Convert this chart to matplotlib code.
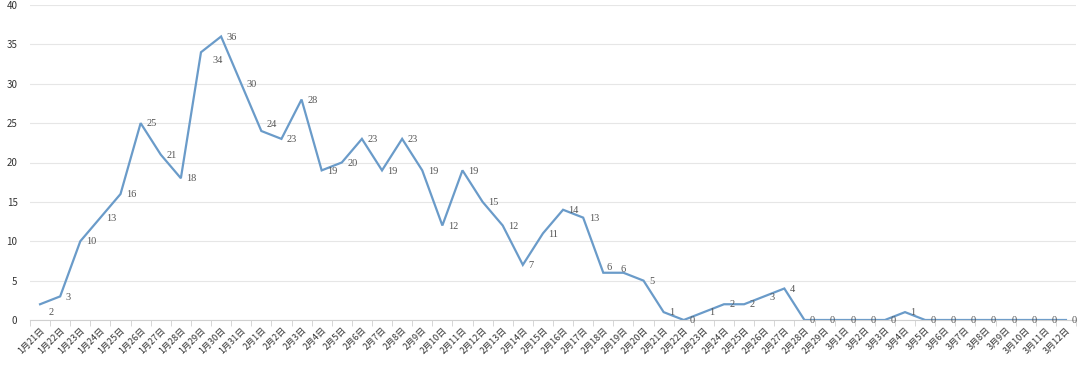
import matplotlib
matplotlib.use("Agg")
import matplotlib.pyplot as plt
from matplotlib.ticker import FixedLocator
import numpy as np

plt.rcParams['font.family'] = ['Noto Sans CJK SC', 'DejaVu Sans']

dates = (["1月%d日" % d for d in range(21, 32)] +
         ["2月%d日" % d for d in range(1, 30)] +
         ["3月%d日" % d for d in range(1, 13)])
values = [2, 3, 10, 13, 16, 25, 21, 18, 34, 36, 30,
          24, 23, 28, 19, 20, 23, 19, 23, 19, 12, 19, 15, 12, 7, 11, 14, 13, 6, 6, 5,
          1, 0, 1, 2, 2, 3, 4, 0, 0,
          0, 0, 0, 1, 0, 0, 0, 0, 0, 0, 0, 0]
y_ticks = [0, 5, 10, 15, 20, 25, 30, 35, 40]

# label placement tweaks (index -> offset in points)
label_offsets = {0: (6, -6), 8: (8, -6), 11: (4, 5), 28: (2, 4), 29: (-2, 2)}

fig = plt.figure(figsize=(10.8, 3.65), dpi=100)
ax = fig.add_axes([30/1080, 45/365, 1046/1080, 315/365])

x = np.arange(len(values))
ax.plot(x, values, color='#6a9bc9', lw=1.6, solid_joinstyle='miter')

for i, (xi, v) in enumerate(zip(x, values)):
    off = label_offsets.get(i, (4, -0.5))
    ax.annotate(str(v), (xi, v), xytext=off, textcoords='offset points',
                ha='left', va='center', fontsize=7.5, color='#555555',
                family='Liberation Serif')

ax.set_xlim(-0.5, len(values) - 0.5)
ax.set_ylim(0, 40)
ax.set_yticks(y_ticks)
ax.yaxis.grid(True, color='#e6e6e6', lw=0.8)
ax.set_axisbelow(True)
ax.tick_params(axis='y', length=0, labelsize=7, colors='#333333', pad=9)

ax.set_xticks(x)
ax.set_xticklabels(dates, rotation=45, ha='right', rotation_mode='anchor',
                   fontsize=6.5, color='#333333')
ax.xaxis.set_minor_locator(FixedLocator(np.arange(-0.5, len(values), 1)))
ax.tick_params(axis='x', which='major', length=0, pad=4)
ax.tick_params(axis='x', which='minor', length=4, color='#d0d0d0')

for s in ['top', 'right', 'left']:
    ax.spines[s].set_visible(False)
ax.spines['bottom'].set_color('#d0d0d0')

fig.savefig('out.png', dpi=100)
